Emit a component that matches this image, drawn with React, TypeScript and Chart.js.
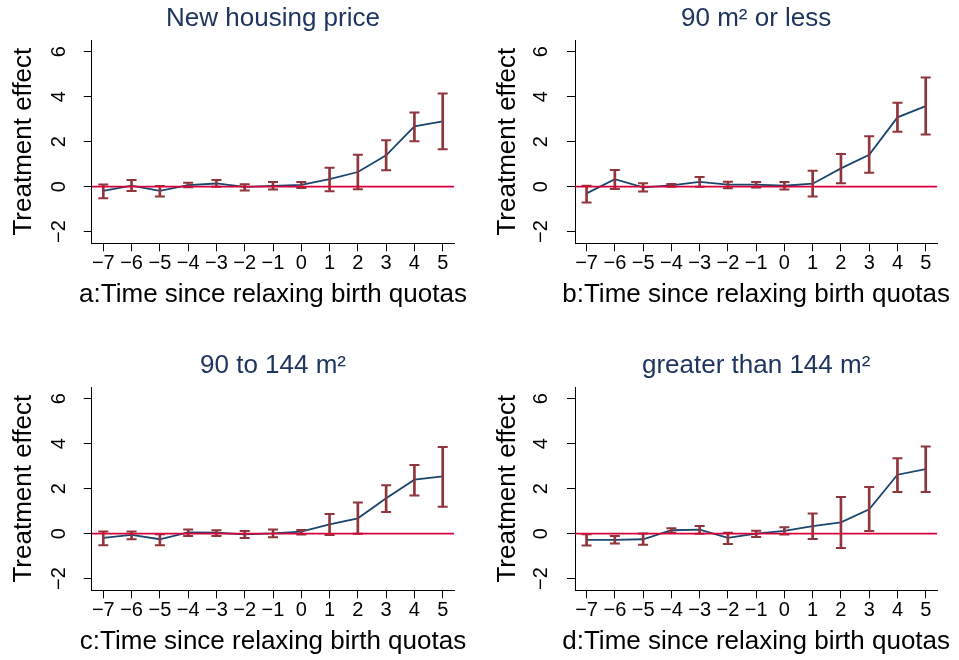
import React, { useEffect, useRef } from 'react';
import { Chart, registerables } from 'chart.js';

Chart.register(...registerables);

// ---------- data ----------
const periods = [-7, -6, -5, -4, -3, -2, -1, 0, 1, 2, 3, 4, 5];
const yTickValues = [-2, 0, 2, 4, 6];
const xRange = [-7.41, 5.41];
const yRange = [-2.52, 6.52];
const zeroLineValue = 0;

const panelTitles = ['New housing price', '90 m² or less', '90 to 144 m²', 'greater than 144 m²'];
const xAxisTitles = [
  'a:Time since relaxing birth quotas',
  'b:Time since relaxing birth quotas',
  'c:Time since relaxing birth quotas',
  'd:Time since relaxing birth quotas',
];
const yAxisTitle = 'Treatment effect';

const estA = [-0.19, 0.04, -0.19, 0.07, 0.14, -0.01, 0.03, 0.08, 0.33, 0.65, 1.39, 2.68, 2.9];
const hiA = [0.1, 0.3, 0.03, 0.17, 0.29, 0.11, 0.21, 0.21, 0.84, 1.42, 2.06, 3.3, 4.14];
const loA = [-0.52, -0.19, -0.44, -0.03, -0.01, -0.17, -0.13, -0.06, -0.21, -0.12, 0.73, 2.02, 1.66];

const estB = [-0.3, 0.33, -0.03, 0.06, 0.21, 0.09, 0.09, 0.04, 0.13, 0.81, 1.42, 3.08, 3.58];
const hiB = [0.04, 0.74, 0.15, 0.12, 0.43, 0.22, 0.21, 0.21, 0.71, 1.45, 2.24, 3.73, 4.85];
const loB = [-0.71, -0.1, -0.22, -0.01, -0.01, -0.07, -0.04, -0.13, -0.44, 0.15, 0.62, 2.44, 2.32];

const estC = [-0.19, -0.06, -0.25, 0.06, 0.04, -0.03, 0.01, 0.09, 0.41, 0.68, 1.57, 2.4, 2.55];
const hiC = [0.09, 0.1, -0.03, 0.18, 0.15, 0.12, 0.18, 0.16, 0.87, 1.38, 2.15, 3.05, 3.85];
const loC = [-0.52, -0.25, -0.52, -0.1, -0.1, -0.19, -0.16, -0.04, -0.06, -0.01, 0.96, 1.7, 1.19];

const estD = [-0.28, -0.28, -0.25, 0.15, 0.18, -0.19, 0.0, 0.12, 0.33, 0.5, 1.08, 2.62, 2.87];
const hiD = [-0.03, -0.1, 0.01, 0.24, 0.34, 0.04, 0.13, 0.28, 0.9, 1.63, 2.07, 3.35, 3.87];
const loD = [-0.53, -0.44, -0.5, 0.04, 0.0, -0.46, -0.15, -0.04, -0.24, -0.64, 0.12, 1.85, 1.85];

// ---------- styles ----------
const FONT = "'Liberation Sans', Arial, Helvetica, sans-serif";
const NAVY_LINE = '#1a476f';
const MAROON = '#90353b';
const ZERO_RED = '#d7003a';
const TITLE_COLOR = '#1f3560';
const CANVAS_W = 480;
const CANVAS_H = 313;

const panels = [
  { est: estA, lo: loA, hi: hiA, title: panelTitles[0], xTitle: xAxisTitles[0], left: 0, top: 0, yw: 91.7, rightPad: 25.7, tickPad: 13.3, yTitlePad: 7.9 },
  { est: estB, lo: loB, hi: hiB, title: panelTitles[1], xTitle: xAxisTitles[1], left: 480, top: 0, yw: 95, rightPad: 22.7, tickPad: 14.4, yTitlePad: 12.4 },
  { est: estC, lo: loC, hi: hiC, title: panelTitles[2], xTitle: xAxisTitles[2], left: 0, top: 347, yw: 91.7, rightPad: 25.7, tickPad: 13.3, yTitlePad: 7.9 },
  { est: estD, lo: loD, hi: hiD, title: panelTitles[3], xTitle: xAxisTitles[3], left: 480, top: 347, yw: 95, rightPad: 22.7, tickPad: 14.4, yTitlePad: 12.4 },
];

const fmt = (v: number) => (v < 0 ? '\u2212' + Math.abs(v) : String(v));

// x-axis title drawn without Chart.js's maxWidth squeeze (the text is wider than the plot)
const xTitlePlugin = {
  id: 'xTitleText',
  afterDraw(chart: any, _args: any, opts: any) {
    const { ctx, chartArea } = chart;
    ctx.save();
    ctx.font = `26px ${FONT}`;
    ctx.fillStyle = '#000';
    ctx.textAlign = 'center';
    ctx.textBaseline = 'alphabetic';
    ctx.fillText(opts.text, (chartArea.left + chartArea.right) / 2, chartArea.bottom + opts.baselineOffset);
    ctx.restore();
  },
};

function Panel({ cfg }: { cfg: any }) {
  const ref = useRef<HTMLCanvasElement | null>(null);
  useEffect(() => {
    if (!ref.current) return;
    const chart = new Chart(ref.current, {
      type: 'line',
      data: {
        datasets: [
          {
            type: 'line',
            data: periods.map((p, i) => ({ x: p, y: cfg.est[i] })),
            borderColor: NAVY_LINE,
            borderWidth: 1.8,
            pointRadius: 0,
            tension: 0,
            order: 4,
          } as any,
          {
            type: 'bar',
            data: periods.map((p, i) => ({ x: p, y: [cfg.lo[i], cfg.hi[i]] })),
            backgroundColor: MAROON,
            borderWidth: 0,
            barThickness: 2,
            order: 3,
          } as any,
          {
            type: 'scatter',
            data: periods.map((p, i) => ({ x: p, y: cfg.hi[i] })),
            pointStyle: 'line',
            pointRadius: 5,
            pointBorderColor: MAROON,
            pointBorderWidth: 2,
            borderColor: MAROON,
            showLine: false,
            order: 2,
          } as any,
          {
            type: 'scatter',
            data: periods.map((p, i) => ({ x: p, y: cfg.lo[i] })),
            pointStyle: 'line',
            pointRadius: 5,
            pointBorderColor: MAROON,
            pointBorderWidth: 2,
            borderColor: MAROON,
            showLine: false,
            order: 2,
          } as any,
          {
            type: 'line',
            data: xRange.map((x) => ({ x, y: zeroLineValue })),
            borderColor: ZERO_RED,
            borderWidth: 1.6,
            pointRadius: 0,
            order: 0,
          } as any,
        ],
      },
      options: {
        responsive: false,
        animation: false,
        events: [],
        layout: { padding: { left: 0, top: 0, bottom: 0, right: cfg.rightPad } },
        plugins: {
          legend: { display: false },
          tooltip: { enabled: false },
          title: {
            display: true,
            text: cfg.title,
            color: TITLE_COLOR,
            font: { family: FONT, size: 26, weight: 'normal' },
            padding: { top: 3.7, bottom: 5.1 },
            fullSize: false,
          },
          xTitleText: { text: cfg.xTitle, baselineOffset: 58.7 },
        },
        scales: {
          x: {
            type: 'linear',
            offset: false,
            min: xRange[0],
            max: xRange[1],
            afterBuildTicks: (s: any) => {
              s.ticks = periods.map((v) => ({ value: v }));
            },
            afterFit: (s: any) => {
              s.height = CANVAS_H - 243.3;
            },
            ticks: {
              callback: (v: any) => fmt(Number(v)),
              font: { family: FONT, size: 20 },
              color: '#000',
              padding: 0.3,
              maxRotation: 0,
              minRotation: 0,
              autoSkip: false,
            },
            grid: { display: true, offset: false, drawOnChartArea: false, drawTicks: true, tickLength: 8, tickColor: '#000', tickWidth: 1 },
            border: { display: true, color: '#000', width: 1 },
            title: { display: false },
          },
          y: {
            type: 'linear',
            min: yRange[0],
            max: yRange[1],
            afterBuildTicks: (s: any) => {
              s.ticks = yTickValues.map((v) => ({ value: v }));
            },
            afterFit: (s: any) => {
              s.width = cfg.yw;
            },
            ticks: {
              callback: (v: any) => fmt(Number(v)),
              font: { family: FONT, size: 20 },
              color: '#000',
              padding: cfg.tickPad,
              minRotation: 90,
              maxRotation: 90,
              crossAlign: 'center',
              autoSkip: false,
            },
            grid: { display: true, drawOnChartArea: false, drawTicks: true, tickLength: 8, tickColor: '#000', tickWidth: 1 },
            border: { display: true, color: '#000', width: 1 },
            title: {
              display: true,
              text: yAxisTitle,
              color: '#000',
              font: { family: FONT, size: 26 },
              padding: { top: cfg.yTitlePad, bottom: 0 },
            },
          },
        },
      } as any,
      plugins: [xTitlePlugin],
    });
    return () => chart.destroy();
  }, []);
  return (
    <canvas
      ref={ref}
      width={CANVAS_W}
      height={CANVAS_H}
      style={{ position: 'absolute', left: cfg.left, top: cfg.top, width: CANVAS_W, height: CANVAS_H }}
    />
  );
}

export default function App() {
  return (
    <div style={{ position: 'absolute', left: 0, top: 0, width: 959, height: 660, background: '#fff', overflow: 'hidden' }}>
      {panels.map((p, i) => (
        <Panel key={i} cfg={p} />
      ))}
    </div>
  );
}
